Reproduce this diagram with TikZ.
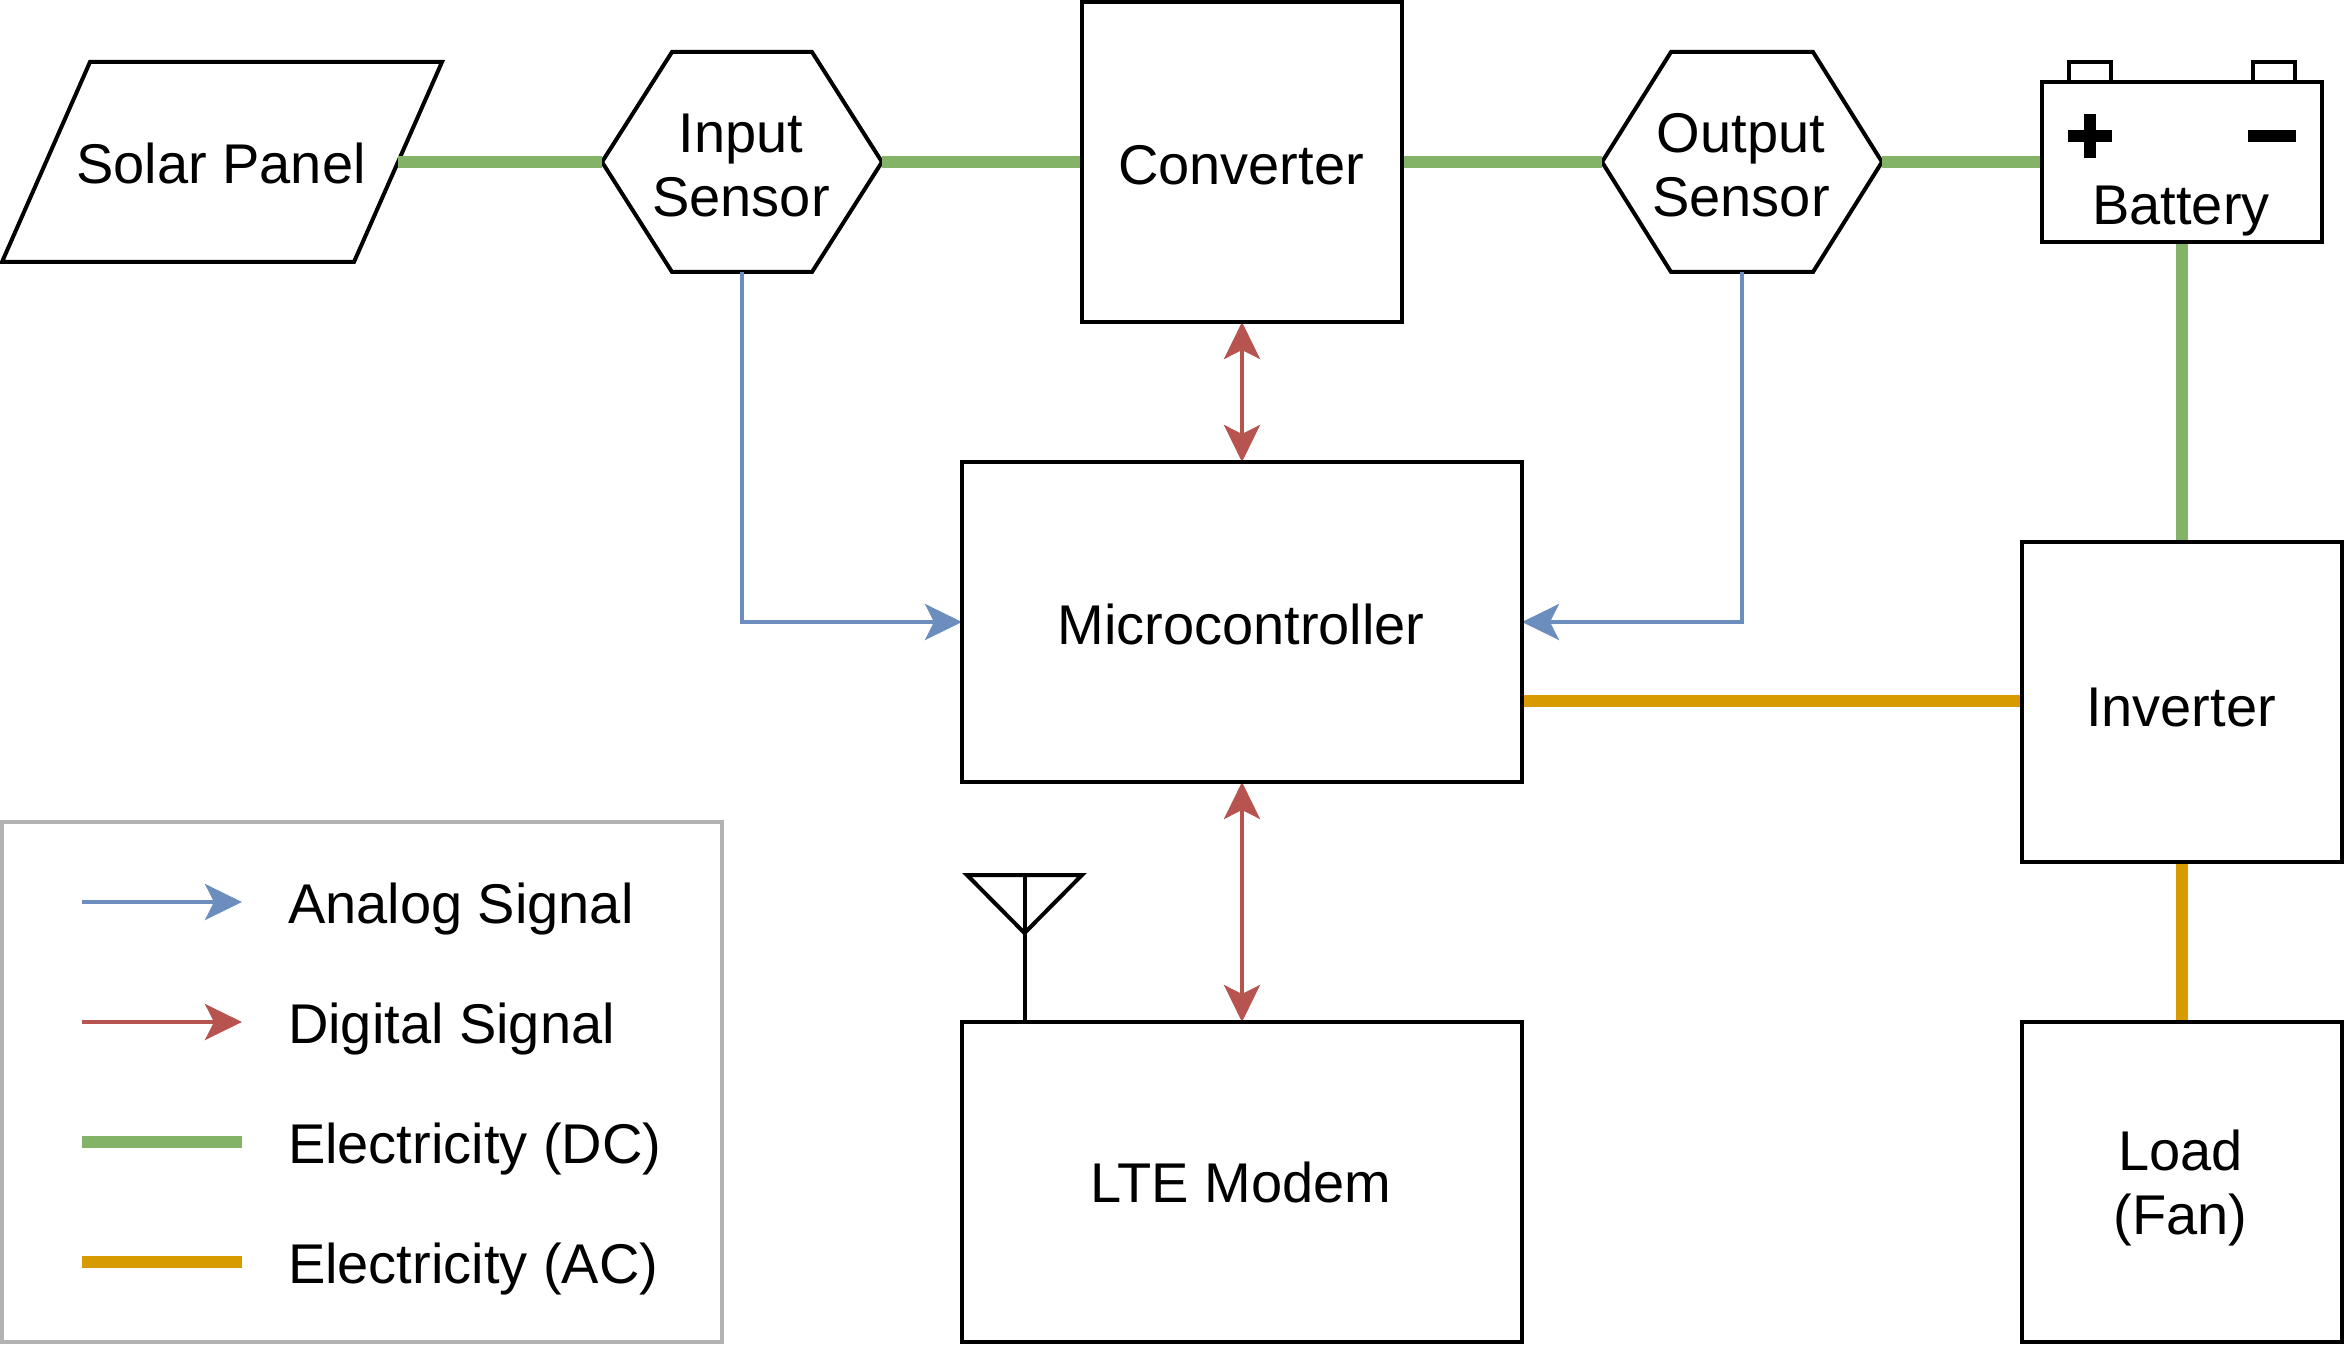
\documentclass[tikz,border=0pt]{standalone}
\usepackage{fontspec}
\setmainfont{Liberation Sans}
\usetikzlibrary{arrows.meta,calc}
\definecolor{dcgreen}{HTML}{82B366}
\definecolor{acorange}{HTML}{D79B00}
\definecolor{sigblue}{HTML}{6C8EBF}
\definecolor{sigred}{HTML}{B85450}
\definecolor{legendgrey}{HTML}{B3B3B3}
\newcommand{\onel}[2]{\raisebox{-#1pt}[0pt][0pt]{#2\hspace*{2pt}}}
\tikzset{
  txt/.style={font=\fontsize{56}{64}\selectfont,align=center,inner sep=0pt,outer sep=0pt},
  boxnode/.style={txt,draw=black,line width=4pt,fill=white,minimum width=#1},
  ghost/.style={txt,minimum width=#1},
  outline/.style={draw=black,line width=4pt,fill=white,line join=miter},
  dc/.style={draw=dcgreen,line width=12pt},
  ac/.style={draw=acorange,line width=12pt},
  analog/.style={draw=sigblue,line width=4pt,-{Stealth[length=37pt,width=36pt,inset=9pt,fill=sigblue]}},
  digital/.style={draw=sigred,line width=4pt,-{Stealth[length=37pt,width=36pt,inset=9pt,fill=sigred]}},
  digitalboth/.style={draw=sigred,line width=4pt,{Stealth[length=37pt,width=36pt,inset=9pt,fill=sigred]}-{Stealth[length=37pt,width=36pt,inset=9pt,fill=sigred]}},
  legendtext/.style={font=\fontsize{56}{64}\selectfont,inner sep=0pt,outer sep=0pt,anchor=base west},
}
\begin{document}
\begin{tikzpicture}[x=1pt,y=-1pt]
\useasboundingbox (0,0) rectangle (2348,1348);
% shapes with outlines drawn from points
\draw[outline] (2,262) -- (90,62) -- (442,62) -- (354,262) -- cycle;
\draw[outline] (602,162) -- (672,52) -- (812,52) -- (882,162) -- (812,272) -- (672,272) -- cycle;
\draw[outline] (1602,162) -- (1671,52) -- (1813,52) -- (1882,162) -- (1813,272) -- (1671,272) -- cycle;
\node[ghost=352pt,minimum height=200pt] (solar) at (222,162) {\raisebox{-22pt}[0pt][0pt]{Solar Panel\hspace*{2pt}}};
\node[ghost=280pt,minimum height=220pt] (inputs) at (742,162) {\rule{0pt}{46pt}Input\hspace*{2pt}\\Sensor\hspace*{2pt}};
\node[ghost=280pt,minimum height=220pt] (outputs) at (1742,162) {\rule{0pt}{46pt}Output\hspace*{2pt}\\Sensor\hspace*{2pt}};
\node[boxnode=320pt,minimum height=320pt] (conv) at (1242,162) {\onel{23}{Converter}};
\node[boxnode=560pt,minimum height=320pt] (micro) at (1242,622) {\onel{22}{Microcontroller}};
\node[boxnode=560pt,minimum height=320pt] (modem) at (1242,1182) {\onel{20}{LTE Modem}};
\node[boxnode=320pt,minimum height=320pt] (inv) at (2182,702) {\onel{24}{Inverter}};
\node[boxnode=320pt,minimum height=320pt] (load) at (2182,1182) {\rule{0pt}{53pt}Load\hspace*{3pt}\\(Fan)\hspace*{3pt}};
% battery
\draw[outline] (2069,82) -- (2069,62) -- (2111,62) -- (2111,82);
\draw[outline] (2253,82) -- (2253,62) -- (2295,62) -- (2295,82);
\node[boxnode=280pt,minimum height=160pt] (batt) at (2182,162) {};
\node[txt] (battlabel) at (2181,211) {Battery};
\fill[black] (2068,130) rectangle (2112,142);
\fill[black] (2084,114) rectangle (2096,158);
\fill[black] (2248,130) rectangle (2296,142);
% antenna
\draw[draw=black,line width=4pt,line join=miter] (967,875) -- (1082,875) -- (1024.5,933) -- cycle;
\coordinate (antennatop) at (1024.5,875);
\coordinate (antennafoot) at (1024.5,1022);
\draw[draw=black,line width=4pt] (antennatop) -- (antennafoot);
% connectors
\draw[dc] (solar.east) -- (inputs.west);
\draw[dc] (inputs.east) -- (conv.west);
\draw[dc] (conv.east) -- (outputs.west);
\draw[dc] (outputs.east) -- (batt.west);
\draw[dc] (batt.south) -- (inv.north);
\draw[ac] (inv.south) -- (load.north);
\coordinate (microac) at (1522,701);
\coordinate (invac) at (2022,701);
\draw[ac] (microac) -- (invac);
\draw[analog] (inputs.south) |- (micro.west);
\draw[analog] (outputs.south) |- (micro.east);
\draw[digitalboth] (conv.south) -- (micro.north);
\draw[digitalboth] (micro.south) -- (modem.north);
% redraw box borders over wire ends
\draw[draw=black,line width=4pt] (conv.north west) rectangle (conv.south east);
\draw[draw=black,line width=4pt] (micro.north west) rectangle (micro.south east);
\draw[draw=black,line width=4pt] (modem.north west) rectangle (modem.south east);
\draw[draw=black,line width=4pt] (inv.north west) rectangle (inv.south east);
\draw[draw=black,line width=4pt] (load.north west) rectangle (load.south east);
\draw[draw=black,line width=4pt] (batt.north west) rectangle (batt.south east);
% legend
\node[draw=legendgrey,line width=4pt,minimum width=720pt,minimum height=520pt,inner sep=0pt,outer sep=0pt] (legend) at (362,1082) {};
\coordinate (la1) at (82,902); \coordinate (la2) at (242,902);
\coordinate (ld1) at (82,1022); \coordinate (ld2) at (242,1022);
\coordinate (le1) at (82,1142); \coordinate (le2) at (242,1142);
\coordinate (lf1) at (82,1262); \coordinate (lf2) at (242,1262);
\draw[analog] (la1) -- (la2);
\draw[digital] (ld1) -- (ld2);
\draw[dc] (le1) -- (le2);
\draw[ac] (lf1) -- (lf2);
\node[legendtext] (ta) at (288,923) {Analog Signal};
\node[legendtext] (td) at (288,1043) {Digital Signal};
\node[legendtext] (te) at (288,1163) {Electricity (DC)};
\node[legendtext] (tf) at (288,1283) {Electricity (AC)};
\end{tikzpicture}
\end{document}
